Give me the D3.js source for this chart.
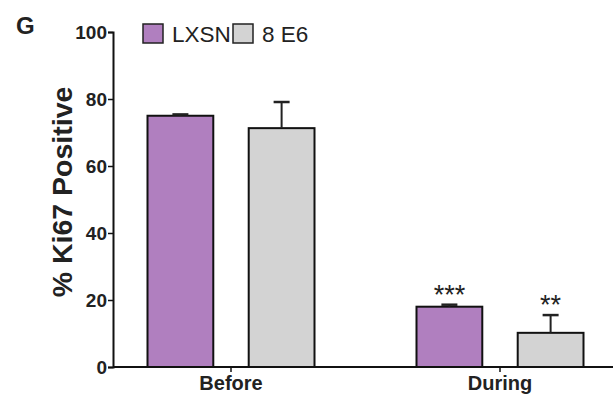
<!DOCTYPE html>
<html>
<head>
<meta charset="utf-8">
<script src="https://cdn.jsdelivr.net/npm/d3@7"></script>
<style>
  body { margin: 0; background: #fff; }
  text { font-family: Arial, "Liberation Sans", sans-serif; fill: #222; }
</style>
</head>
<body>
<div id="chart"></div>
<script>
// data
var groups = ['Before', 'During'];
var series = ['LXSN', '8 E6'];
var meanLXSN = [75.0, 18.0];
var errLXSN = [0.4, 0.6];
var mean8E6 = [71.3, 10.2];
var err8E6 = [7.8, 5.3];
var stars = [['', ''], ['***', '**']];
var yTicks = [0, 20, 40, 60, 80, 100];

var colors = {'LXSN': '#b07fbf', '8 E6': '#d3d3d3'};

var W = 613, H = 397;

var rows = [];
groups.forEach(function(g, i){
    rows.push({group: g, s: 'LXSN', v: meanLXSN[i], e: errLXSN[i], star: stars[i][0]});
    rows.push({group: g, s: '8 E6', v: mean8E6[i], e: err8E6[i], star: stars[i][1]});
});

var svg = d3.select('#chart')
    .append('svg')
    .attr('width', W)
    .attr('height', H);

var y = d3.scaleLinear().domain([0, 100]).range([367, 32]);

// group centres at the x ticks
var x = d3.scalePoint().domain(groups).range([231, 500]);
var xs = d3.scaleBand().domain(series).range([-83.5, 83.5]).paddingInner(0.35);

// bars
svg.selectAll('rect.bar')
    .data(rows)
    .enter()
    .append('rect')
    .attr('class', 'bar')
    .attr('x', function(d){ return x(d.group) + xs(d.s); })
    .attr('y', function(d){ return y(d.v); })
    .attr('width', xs.bandwidth())
    .attr('height', function(d){ return y(0) - y(d.v); })
    .attr('fill', function(d){ return colors[d.s]; })
    .attr('stroke', '#111')
    .attr('stroke-width', 2);

// error bars (upper only)
var eb = svg.selectAll('g.err')
    .data(rows)
    .enter()
    .append('g')
    .attr('class', 'err')
    .attr('transform', function(d){ return 'translate(' + (x(d.group) + xs(d.s) + xs.bandwidth() / 2) + ',0)'; });

eb.append('line')
    .attr('x1', 0).attr('x2', 0)
    .attr('y1', function(d){ return y(d.v); })
    .attr('y2', function(d){ return y(d.v + d.e); })
    .attr('stroke', '#222')
    .attr('stroke-width', 2);

eb.append('line')
    .attr('x1', -8).attr('x2', 8)
    .attr('y1', function(d){ return y(d.v + d.e); })
    .attr('y2', function(d){ return y(d.v + d.e); })
    .attr('stroke', '#222')
    .attr('stroke-width', 2.5);

// significance stars
eb.append('text')
    .text(function(d){ return d.star; })
    .attr('x', 0)
    .attr('y', function(d){ return y(d.v + d.e) - 1; })
    .attr('text-anchor', 'middle')
    .style('font-size', '27px')
    .attr('fill', '#333');

// y axis
var yAxis = svg.append('g')
    .attr('transform', 'translate(113,0)')
    .call(d3.axisLeft(y).tickValues(yTicks).tickSize(5).tickPadding(1));
yAxis.select('.domain').attr('stroke', '#111').attr('stroke-width', 2);
yAxis.selectAll('.tick line').attr('stroke', '#111').attr('stroke-width', 1.5);
yAxis.selectAll('.tick text')
    .style('font-size', '19px')
    .style('font-weight', 'bold')
    .attr('fill', '#222');

// x axis
svg.append('line')
    .attr('x1', 113).attr('x2', W)
    .attr('y1', y(0)).attr('y2', y(0))
    .attr('stroke', '#111')
    .attr('stroke-width', 2);

svg.selectAll('line.xtick')
    .data(groups)
    .enter()
    .append('line')
    .attr('class', 'xtick')
    .attr('x1', function(d){ return x(d); })
    .attr('x2', function(d){ return x(d); })
    .attr('y1', y(0)).attr('y2', y(0) + 5)
    .attr('stroke', '#111')
    .attr('stroke-width', 1.5);

svg.selectAll('text.xlabel')
    .data(groups)
    .enter()
    .append('text')
    .attr('class', 'xlabel')
    .text(function(d){ return d; })
    .attr('x', function(d){ return x(d); })
    .attr('y', 390)
    .attr('text-anchor', 'middle')
    .style('font-size', '20px')
    .style('font-weight', 'bold');

// y title
svg.append('text')
    .text('% Ki67 Positive')
    .attr('transform', 'translate(72,192) rotate(-90)')
    .attr('text-anchor', 'middle')
    .style('font-size', '28.5px')
    .style('font-weight', 'bold');

// panel letter
svg.append('text')
    .text('G')
    .attr('x', 16)
    .attr('y', 34)
    .style('font-size', '24px')
    .style('font-weight', 'bold')
    .attr('fill', '#111');

// legend
var legX = [143, 233];
var leg = svg.selectAll('g.leg')
    .data(series)
    .enter()
    .append('g')
    .attr('class', 'leg')
    .attr('transform', function(d, i){ return 'translate(' + legX[i] + ',24)'; });

leg.append('rect')
    .attr('width', 20)
    .attr('height', 19)
    .attr('fill', function(d){ return colors[d]; })
    .attr('stroke', '#222')
    .attr('stroke-width', 1.5);

leg.append('text')
    .text(function(d){ return d; })
    .attr('x', 29)
    .attr('y', 18)
    .style('font-size', '22.5px');
</script>
</body>
</html>
